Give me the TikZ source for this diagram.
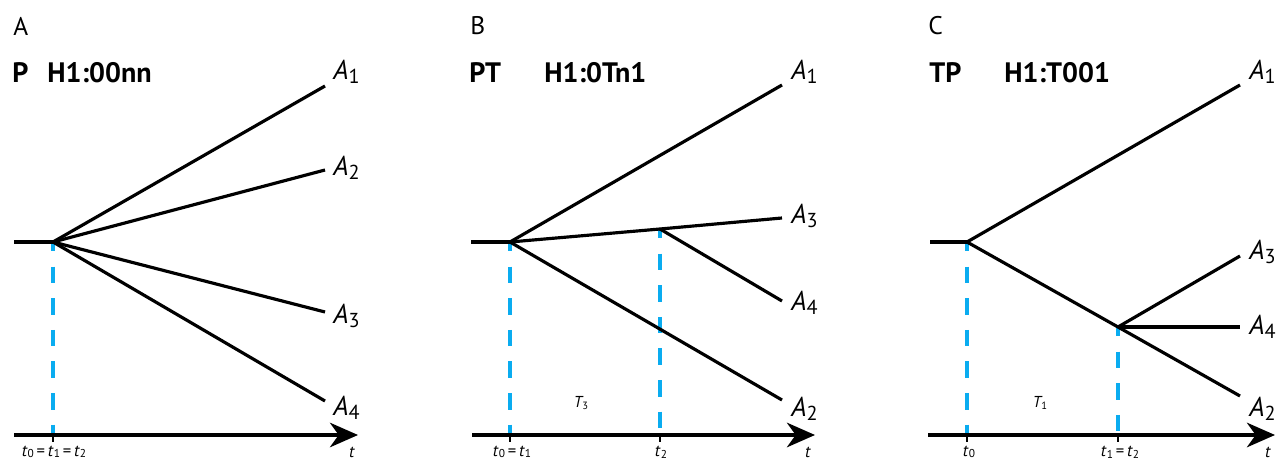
\documentclass[tikz,border=0pt]{standalone}
\usepackage{fontspec}
\setmainfont{PT Sans}
\usepackage{xcolor}
\usepackage{tikz}
\usetikzlibrary{arrows.meta}

\definecolor{guideblue}{RGB}{10,172,240}
\newcommand{\alab}[1]{\textit{A}\raisebox{-0.25ex}{\fontsize{11.5}{12}\selectfont #1}}
\newcommand{\tlab}[1]{\textit{t}\raisebox{-0.2ex}{\fontsize{6.5}{7}\selectfont #1}}

\begin{document}
\begin{tikzpicture}[x=0.02cm, y=-0.02cm,
    branch/.style={line width=1.8pt},
    guide/.style={guideblue, line width=2pt, dash pattern=on 9.4pt off 8.6pt, dash phase=4pt},
    axis/.style={line width=1.8pt, -{Stealth[length=16pt, width=14pt, inset=5pt]}},
    tickmark/.style={line width=1.3pt},
    panel/.style={anchor=west, inner sep=0pt, font=\fontsize{14.5}{15}\selectfont},
    head/.style={anchor=west, inner sep=0pt, font=\fontsize{16}{17}\selectfont\bfseries},
    endlab/.style={anchor=west, inner sep=0pt, font=\fontsize{15.5}{16}\selectfont},
    timelab/.style={inner sep=0pt, font=\fontsize{9.5}{10}\selectfont},
    spanlab/.style={inner sep=0pt, font=\fontsize{9}{10}\selectfont\itshape}]
    \useasboundingbox (0,0) rectangle (1285,462);

    % panel A
    \node[panel] (pa) at (13,26) {A};
    \node[head] (pah) at (12,73) {P};
    \node[head] (pam) at (47,73) {H1:00nn};
    \coordinate (a0) at (14,242);
    \coordinate (ar) at (53,242);
    \coordinate (a1) at (325,86);
    \coordinate (a2) at (325,170);
    \coordinate (a3) at (325,312);
    \coordinate (a4) at (325,401);
    \coordinate (ax0) at (14,435);
    \coordinate (ax1) at (358,435);
    \draw[guide] (ar) -- (ar |- ax0);
    \draw[branch] (a0) -- (ar);
    \draw[branch] (ar) -- (a1);
    \draw[branch] (ar) -- (a2);
    \draw[branch] (ar) -- (a3);
    \draw[branch] (ar) -- (a4);
    \draw[axis] (ax0) -- (ax1);
    \draw[tickmark] (ar |- ax0) -- ++(0,7);
    \node[endlab] (la1) at (333,72) {\alab{1}};
    \node[endlab] (la2) at (333,168) {\alab{2}};
    \node[endlab] (la3) at (333,316) {\alab{3}};
    \node[endlab] (la4) at (333,408) {\alab{4}};
    \node[timelab] (ta) at (54,452) {\tlab{0}\,=\,\tlab{1}\,=\,\tlab{2}};
    \node[timelab] (tta) at (352,452) {\textit{t}};

    % panel B
    \node[panel] (pb) at (470,26) {B};
    \node[head] (pbh) at (469,73) {PT};
    \node[head] (pbm) at (544,73) {H1:0Tn1};
    \coordinate (b0) at (471,242);
    \coordinate (br) at (510,242);
    \coordinate (bs) at (660,229);
    \coordinate (b1) at (782,85);
    \coordinate (b2) at (782,400);
    \coordinate (b3) at (782,218);
    \coordinate (b4) at (782,301);
    \coordinate (bx0) at (472,435);
    \coordinate (bx1) at (815,435);
    \draw[guide] (br) -- (br |- bx0);
    \draw[guide] (bs) -- (bs |- bx0);
    \draw[branch] (b0) -- (br);
    \draw[branch] (br) -- (b1);
    \draw[branch] (br) -- (bs) -- (b3);
    \draw[branch] (bs) -- (b4);
    \draw[branch] (br) -- (b2);
    \draw[axis] (bx0) -- (bx1);
    \draw[tickmark] (br |- bx0) -- ++(0,7);
    \draw[tickmark] (bs |- bx0) -- ++(0,7);
    \node[endlab] (lb1) at (791,72) {\alab{1}};
    \node[endlab] (lb3) at (791,216) {\alab{3}};
    \node[endlab] (lb4) at (791,303) {\alab{4}};
    \node[endlab] (lb2) at (791,409) {\alab{2}};
    \node[spanlab] (sb) at (581,403) {\textit{T}\raisebox{-0.2ex}{\fontsize{6}{6}\selectfont\upshape 3}};
    \node[timelab] (tb0) at (512,452) {\tlab{0}\,=\,\tlab{1}};
    \node[timelab] (tb2) at (661,452) {\tlab{2}};
    \node[timelab] (ttb) at (808,452) {\textit{t}};

    % panel C
    \node[panel] (pc) at (928,26) {C};
    \node[head] (pch) at (929,73) {TP};
    \node[head] (pcm) at (1004,73) {H1:T001};
    \coordinate (c0) at (930,242);
    \coordinate (cr) at (967,242);
    \coordinate (cs) at (1118,327);
    \coordinate (c1) at (1240,85);
    \coordinate (c2) at (1240,396);
    \coordinate (c3) at (1240,256);
    \coordinate (c4) at (1240,327);
    \coordinate (cx0) at (928,435);
    \coordinate (cx1) at (1275,435);
    \draw[guide] (cr) -- (cr |- cx0);
    \draw[guide] (cs) -- (cs |- cx0);
    \draw[branch] (c0) -- (cr);
    \draw[branch] (cr) -- (c1);
    \draw[branch] (cr) -- (cs) -- (c2);
    \draw[branch] (cs) -- (c3);
    \draw[branch] (cs) -- (c4);
    \draw[axis] (cx0) -- (cx1);
    \draw[tickmark] (cr |- cx0) -- ++(0,7);
    \draw[tickmark] (cs |- cx0) -- ++(0,7);
    \node[endlab] (lc1) at (1249,72) {\alab{1}};
    \node[endlab] (lc3) at (1249,252) {\alab{3}};
    \node[endlab] (lc4) at (1249,327) {\alab{4}};
    \node[endlab] (lc2) at (1249,409) {\alab{2}};
    \node[spanlab] (sc) at (1040,403) {\textit{T}\raisebox{-0.2ex}{\fontsize{6}{6}\selectfont\upshape 1}};
    \node[timelab] (tc0) at (969,452) {\tlab{0}};
    \node[timelab] (tc1) at (1120,452) {\tlab{1}\,=\,\tlab{2}};
    \node[timelab] (ttc) at (1268,452) {\textit{t}};
\end{tikzpicture}
\end{document}
